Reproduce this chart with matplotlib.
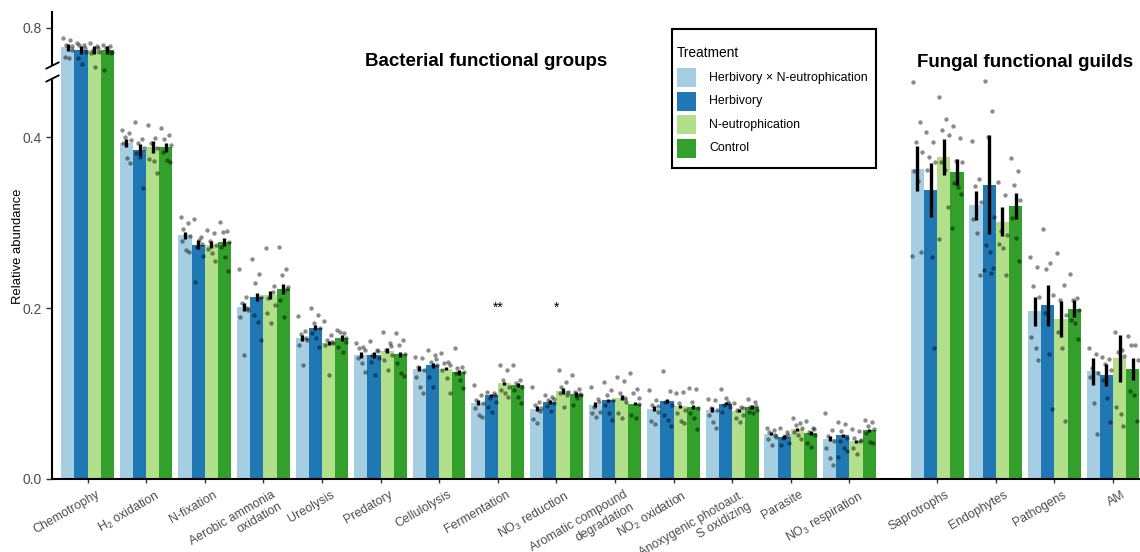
import numpy as np
import matplotlib
matplotlib.use('Agg')
import matplotlib.pyplot as plt
import matplotlib.transforms as mtransforms
from matplotlib.patches import Rectangle

plt.rcParams['font.family'] = ['Liberation Sans', 'DejaVu Sans']
plt.rcParams['mathtext.fontset'] = 'custom'
plt.rcParams['mathtext.rm'] = 'Liberation Sans'
plt.rcParams['mathtext.it'] = 'Liberation Sans:italic'

# ---- data ----
bact_groups = ['Chemotrophy', 'H$_2$ oxidation', 'N-fixation', 'Aerobic ammonia\noxidation',
               'Ureolysis', 'Predatory', 'Cellulolysis', 'Fermentation', 'NO$_3$ reduction',
               'Aromatic compound\ndegradation', 'NO$_2$ oxidation',
               'Anoxygenic photoaut.\nS oxidizing', 'Parasite', 'NO$_3$ respiration']
fung_groups = ['Saprotrophs', 'Endophytes', 'Pathogens', 'AM']
treatments = ['Herbivory \u00d7 N-eutrophication', 'Herbivory', 'N-eutrophication', 'Control']

# bacterial groups first, then fungal guilds
mean_hxn = [0.777, 0.393, 0.285, 0.201, 0.165, 0.145, 0.129, 0.089, 0.082, 0.087, 0.082, 0.081, 0.053, 0.047,
            0.363, 0.320, 0.196, 0.126]
mean_herb = [0.774, 0.385, 0.274, 0.213, 0.177, 0.145, 0.133, 0.098, 0.090, 0.092, 0.091, 0.088, 0.049, 0.051,
             0.338, 0.344, 0.203, 0.122]
mean_neut = [0.774, 0.388, 0.274, 0.215, 0.159, 0.150, 0.129, 0.112, 0.103, 0.095, 0.085, 0.080, 0.058, 0.044,
             0.377, 0.301, 0.187, 0.141]
mean_ctrl = [0.774, 0.388, 0.277, 0.222, 0.165, 0.146, 0.125, 0.110, 0.099, 0.088, 0.084, 0.084, 0.054, 0.057,
             0.359, 0.319, 0.199, 0.129]

se_hxn = [0.004, 0.005, 0.004, 0.005, 0.003, 0.003, 0.003, 0.003, 0.003, 0.003, 0.003, 0.003, 0.002, 0.003,
          0.026, 0.017, 0.017, 0.016]
se_herb = [0.005, 0.007, 0.005, 0.005, 0.003, 0.003, 0.003, 0.002, 0.002, 0.002, 0.002, 0.002, 0.002, 0.002,
           0.032, 0.058, 0.024, 0.013]
se_neut = [0.005, 0.007, 0.004, 0.005, 0.002, 0.003, 0.002, 0.002, 0.003, 0.003, 0.002, 0.002, 0.002, 0.002,
           0.021, 0.017, 0.021, 0.027]
se_ctrl = [0.005, 0.005, 0.005, 0.006, 0.003, 0.003, 0.003, 0.002, 0.003, 0.002, 0.002, 0.002, 0.002, 0.002,
           0.015, 0.015, 0.010, 0.013]

pts_hxn = [
    [0.788, 0.785, 0.780, 0.774, 0.766, 0.764, 0.778],
    [0.408, 0.405, 0.400, 0.396, 0.393, 0.375, 0.370],
    [0.306, 0.299, 0.292, 0.284, 0.278, 0.268, 0.265],
    [0.246, 0.213, 0.206, 0.198, 0.190, 0.145, 0.200],
    [0.191, 0.173, 0.170, 0.163, 0.157, 0.133, 0.165],
    [0.159, 0.154, 0.153, 0.151, 0.142, 0.136, 0.125],
    [0.143, 0.142, 0.131, 0.127, 0.119, 0.108, 0.101],
    [0.110, 0.098, 0.092, 0.089, 0.083, 0.075, 0.072],
    [0.108, 0.090, 0.087, 0.083, 0.070, 0.065, 0.080],
    [0.108, 0.094, 0.084, 0.078, 0.077, 0.073, 0.090],
    [0.104, 0.092, 0.087, 0.078, 0.068, 0.064, 0.085],
    [0.094, 0.092, 0.083, 0.081, 0.075, 0.067, 0.060],
    [0.060, 0.057, 0.055, 0.049, 0.047, 0.040, 0.052],
    [0.077, 0.057, 0.050, 0.044, 0.036, 0.025, 0.016],
    [0.464, 0.418, 0.394, 0.382, 0.360, 0.349, 0.265, 0.261],
    [0.395, 0.351, 0.343, 0.324, 0.304, 0.288, 0.239],
    [0.260, 0.248, 0.226, 0.213, 0.166, 0.153, 0.139],
    [0.153, 0.146, 0.130, 0.124, 0.119, 0.089, 0.053],
]
pts_herb = [
    [0.782, 0.780, 0.780, 0.772, 0.765, 0.758, 0.776],
    [0.418, 0.398, 0.393, 0.387, 0.381, 0.377, 0.340],
    [0.304, 0.283, 0.271, 0.261, 0.230, 0.279, 0.275],
    [0.257, 0.240, 0.229, 0.213, 0.192, 0.184, 0.163],
    [0.200, 0.192, 0.182, 0.177, 0.171, 0.165, 0.154],
    [0.161, 0.151, 0.145, 0.142, 0.137, 0.122, 0.150],
    [0.151, 0.145, 0.137, 0.133, 0.119, 0.108, 0.140],
    [0.102, 0.101, 0.095, 0.090, 0.084, 0.078, 0.098],
    [0.098, 0.096, 0.092, 0.089, 0.085, 0.080, 0.094],
    [0.113, 0.104, 0.098, 0.092, 0.087, 0.077, 0.069],
    [0.126, 0.103, 0.090, 0.087, 0.075, 0.069, 0.062],
    [0.105, 0.090, 0.087, 0.084, 0.078, 0.095, 0.088],
    [0.060, 0.055, 0.048, 0.042, 0.040, 0.050, 0.052],
    [0.067, 0.064, 0.056, 0.048, 0.044, 0.036, 0.033, 0.026],
    [0.406, 0.394, 0.377, 0.371, 0.361, 0.260, 0.153],
    [0.466, 0.430, 0.400, 0.306, 0.274, 0.266, 0.247, 0.244, 0.241],
    [0.292, 0.253, 0.246, 0.215, 0.194, 0.146, 0.082],
    [0.143, 0.140, 0.135, 0.128, 0.116, 0.095, 0.067],
]
pts_neut = [
    [0.782, 0.778, 0.774, 0.772, 0.770, 0.754, 0.776],
    [0.414, 0.399, 0.393, 0.387, 0.374, 0.372, 0.358],
    [0.291, 0.288, 0.278, 0.274, 0.269, 0.264, 0.255],
    [0.270, 0.219, 0.212, 0.204, 0.194, 0.182, 0.226],
    [0.185, 0.168, 0.163, 0.159, 0.157, 0.122, 0.160],
    [0.172, 0.159, 0.151, 0.145, 0.139, 0.127, 0.155],
    [0.147, 0.137, 0.136, 0.133, 0.127, 0.118, 0.101],
    [0.133, 0.127, 0.116, 0.108, 0.104, 0.101, 0.096],
    [0.127, 0.113, 0.108, 0.102, 0.101, 0.084, 0.098],
    [0.119, 0.115, 0.101, 0.090, 0.077, 0.071, 0.095],
    [0.101, 0.102, 0.089, 0.081, 0.077, 0.068, 0.066],
    [0.089, 0.084, 0.081, 0.075, 0.071, 0.067, 0.083],
    [0.071, 0.065, 0.063, 0.060, 0.055, 0.051, 0.047],
    [0.058, 0.056, 0.048, 0.046, 0.036, 0.029, 0.044],
    [0.447, 0.421, 0.408, 0.402, 0.371, 0.361, 0.318, 0.281],
    [0.347, 0.332, 0.290, 0.285, 0.275, 0.270, 0.239],
    [0.264, 0.227, 0.209, 0.192, 0.172, 0.153, 0.068],
    [0.172, 0.151, 0.149, 0.144, 0.084, 0.076, 0.062],
]
pts_ctrl = [
    [0.780, 0.778, 0.776, 0.772, 0.742, 0.774, 0.770],
    [0.411, 0.402, 0.398, 0.391, 0.382, 0.373, 0.371],
    [0.301, 0.290, 0.289, 0.277, 0.271, 0.260, 0.243],
    [0.271, 0.246, 0.239, 0.225, 0.209, 0.190, 0.222],
    [0.174, 0.171, 0.172, 0.165, 0.154, 0.149, 0.160],
    [0.171, 0.163, 0.157, 0.146, 0.136, 0.124, 0.120],
    [0.153, 0.131, 0.130, 0.125, 0.124, 0.116, 0.106],
    [0.133, 0.116, 0.112, 0.108, 0.104, 0.096, 0.089],
    [0.122, 0.105, 0.102, 0.098, 0.087, 0.095, 0.100],
    [0.124, 0.105, 0.101, 0.095, 0.075, 0.071, 0.088],
    [0.106, 0.105, 0.090, 0.083, 0.077, 0.071, 0.058],
    [0.094, 0.090, 0.084, 0.081, 0.078, 0.077, 0.085],
    [0.068, 0.060, 0.055, 0.051, 0.042, 0.037, 0.058],
    [0.069, 0.067, 0.062, 0.058, 0.054, 0.043, 0.042],
    [0.413, 0.399, 0.372, 0.371, 0.346, 0.342, 0.333, 0.294],
    [0.375, 0.360, 0.344, 0.326, 0.305, 0.282, 0.255],
    [0.240, 0.212, 0.209, 0.198, 0.186, 0.182, 0.164],
    [0.167, 0.157, 0.157, 0.139, 0.103, 0.098, 0.068],
]

# significance labels (group -> stars)
sig_labels = {'Fermentation': '**', 'NO$_3$ reduction': '*'}

colors = ['#A6CEE3', '#1F78B4', '#B2DF8A', '#33A02C']
means = [mean_hxn, mean_herb, mean_neut, mean_ctrl]
ses = [se_hxn, se_herb, se_neut, se_ctrl]
points = [pts_hxn, pts_herb, pts_neut, pts_ctrl]
labels = bact_groups + fung_groups

# ---- broken y axis via a piecewise scale ----
lo_cut, hi_cut, keep = 0.476, 0.75, 0.002

def fwd(y):
    y = np.asarray(y, dtype=float)
    return np.where(y <= lo_cut, y,
                    np.where(y >= hi_cut, y - (hi_cut - lo_cut) + keep,
                             lo_cut + (y - lo_cut) * keep / (hi_cut - lo_cut)))

def inv(t):
    t = np.asarray(t, dtype=float)
    return np.where(t <= lo_cut, t,
                    np.where(t >= lo_cut + keep, t + (hi_cut - lo_cut) - keep,
                             lo_cut + (t - lo_cut) * (hi_cut - lo_cut) / keep))

W, H = 1140, 552
fig = plt.figure(figsize=(W / 100, H / 100), dpi=100)
ax = fig.add_axes([52 / W, 73 / H, 1088 / W, 468.5 / H])
ax.set_yscale('function', functions=(fwd, inv))

xpos = np.concatenate([np.arange(len(bact_groups)), len(bact_groups) + 0.5 + np.arange(len(fung_groups))])
bw = 0.225
offsets = (np.arange(4) - 1.5) * bw
jitter = [-0.075, 0.045, -0.025, 0.08, -0.055, 0.015, 0.065, -0.085, 0.03]

for k in range(4):
    xs = xpos + offsets[k]
    ax.bar(xs, means[k], width=bw, color=colors[k], zorder=1, linewidth=0)
    for i, vals in enumerate(points[k]):
        jx = [xs[i] + jitter[j % len(jitter)] for j in range(len(vals))]
        ax.scatter(jx, vals, s=10, color='black', alpha=0.45, linewidths=0, zorder=2)
    lo = np.array(means[k]) - np.array(ses[k])
    hi = np.array(means[k]) + np.array(ses[k])
    ax.vlines(xs, lo, hi, color='black', linewidth=2.4, zorder=3)

for name, stars in sig_labels.items():
    ax.text(xpos[labels.index(name)], 0.2, stars, ha='center', va='center', fontsize=10)

ax.set_xlim(-0.606, 17.96)
ax.set_ylim(0, 0.82)
ax.set_yticks([0.0, 0.2, 0.4, 0.8])
ax.set_yticklabels(['0.0', '0.2', '0.4', '0.8'])
ax.tick_params(axis='y', labelsize=10, labelcolor='#4D4D4D', length=4, width=1, color='#333333')
ax.tick_params(axis='x', length=3, width=1, color='#333333', pad=3)
ax.set_xticks(xpos)
ax.set_xticklabels(labels, rotation=30, ha='right', va='top', rotation_mode='anchor',
                   multialignment='right', fontsize=8.9, color='#4D4D4D')
# nudge rotated labels so their top-right corner sits right of the tick
shift = mtransforms.ScaledTranslation(6 / 72, -1 / 72, fig.dpi_scale_trans)
for lab in ax.get_xticklabels():
    lab.set_transform(lab.get_transform() + shift)
ax.set_ylabel('Relative abundance', fontsize=9.4)
ax.yaxis.set_label_coords(-0.0257, 0.497)

for s in ['top', 'right', 'left']:
    ax.spines[s].set_visible(False)
ax.spines['bottom'].set_linewidth(1.5)

# left axis line with a gap and break marks
ytr = ax.get_yaxis_transform()
ax.plot([0, 0], [0, 0.469], color='black', lw=1.5, transform=ytr, clip_on=False, solid_capstyle='butt')
ax.plot([0, 0], [0.756, 0.82], color='black', lw=1.5, transform=ytr, clip_on=False, solid_capstyle='butt')
for yb in (0.469, 0.756):
    ax.plot([0], [yb], marker=[(-1, -0.5), (1, 0.5)], markersize=10, markeredgewidth=1.3,
            color='black', transform=ytr, clip_on=False)

xtr = ax.get_xaxis_transform()
ax.text(xpos[7] - 0.2, 0.892, 'Bacterial functional groups', ha='center', va='center',
        fontsize=13.5, fontweight='bold', transform=xtr)
ax.text(xpos[-1] - 1.5, 0.89, 'Fungal functional guilds', ha='center', va='center',
        fontsize=13.5, fontweight='bold', transform=xtr)

# ---- legend box (figure pixels) ----
def fx(px):
    return px / W

def fy(py):
    return 1 - py / H

fig.add_artist(Rectangle((fx(672), fy(168)), fx(876) - fx(672), fy(29) - fy(168),
                         transform=fig.transFigure, facecolor='white', edgecolor='black',
                         linewidth=1.5, zorder=5))
fig.text(fx(677), fy(53), 'Treatment', fontsize=9.9, ha='left', va='center', zorder=6)
for k, name in enumerate(treatments):
    cy = 77.5 + 23.6 * k
    fig.add_artist(Rectangle((fx(677), fy(cy + 9.5)), fx(696) - fx(677), fy(cy - 9.5) - fy(cy + 9.5),
                             transform=fig.transFigure, facecolor=colors[k], edgecolor='none', zorder=6))
    fig.text(fx(709), fy(cy), name, fontsize=8.9, ha='left', va='center', zorder=6)

plt.savefig('out.png', dpi=100)
